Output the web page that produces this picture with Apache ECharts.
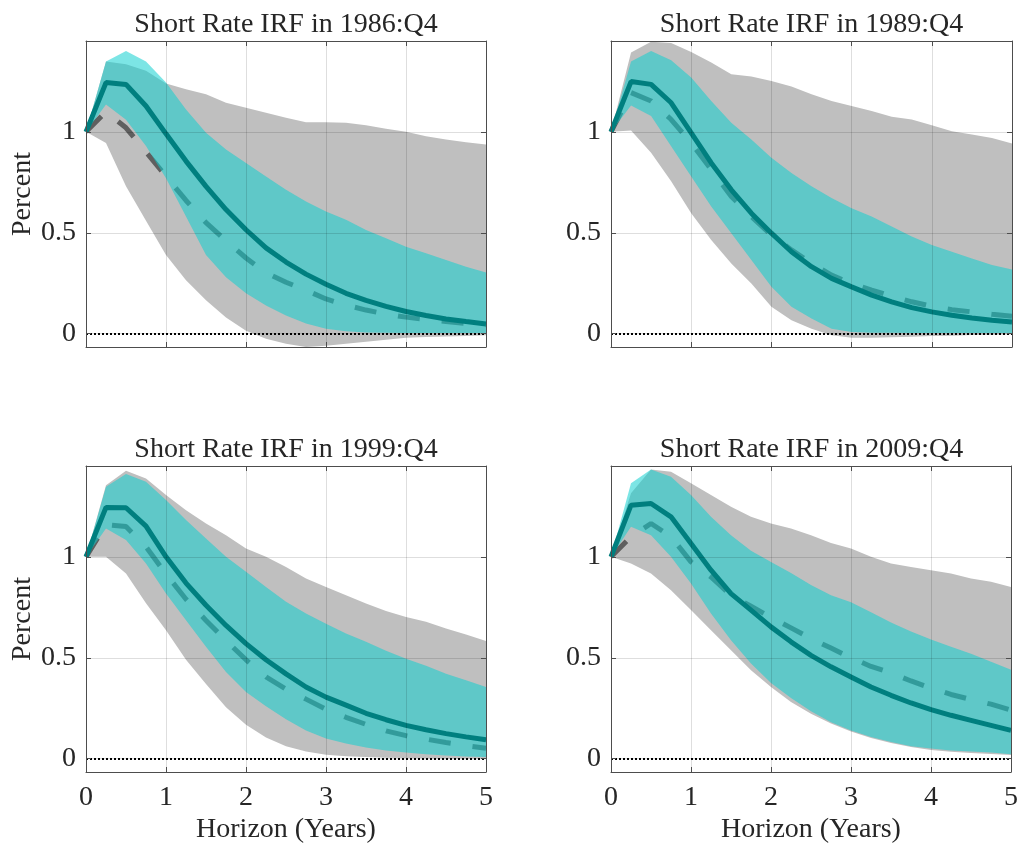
<!DOCTYPE html>
<html>
<head>
<meta charset="utf-8">
<title>Short Rate IRF</title>
<script src="https://cdn.jsdelivr.net/npm/echarts@6/dist/echarts.min.js"></script>
<style>
  html, body { margin: 0; padding: 0; background: #fff; }
  #main { width: 1021px; height: 856px; }
</style>
</head>
<body>
<div id="main"></div>
<script>
// horizon in years (quarterly)
const horizon = [0, 0.25, 0.5, 0.75, 1, 1.25, 1.5, 1.75, 2, 2.25, 2.5, 2.75, 3, 3.25, 3.5, 3.75, 4, 4.25, 4.5, 4.75, 5];
const yTicks = [0, 0.5, 1];

// 1986:Q4
const solid1986  = [1.0, 1.244, 1.235, 1.128, 0.99, 0.855, 0.73, 0.615, 0.515, 0.425, 0.355, 0.295, 0.245, 0.2, 0.165, 0.135, 0.11, 0.09, 0.073, 0.06, 0.048];
const dashed1986 = [1.0, 1.10, 1.02, 0.90, 0.78, 0.66, 0.55, 0.46, 0.375, 0.302, 0.255, 0.215, 0.172, 0.142, 0.117, 0.097, 0.082, 0.07, 0.06, 0.051, 0.044];
const cyanHi1986 = [1.0, 1.348, 1.401, 1.348, 1.244, 1.111, 0.995, 0.912, 0.846, 0.779, 0.713, 0.655, 0.605, 0.564, 0.514, 0.473, 0.431, 0.398, 0.365, 0.332, 0.303];
const cyanLo1986 = [1.0, 1.136, 1.06, 0.93, 0.77, 0.58, 0.39, 0.28, 0.2, 0.14, 0.09, 0.05, 0.025, 0.012, 0.006, 0.004, 0.003, 0.003, 0.003, 0.003, 0.003];
const grayHi1986 = [1.0, 1.348, 1.335, 1.302, 1.24, 1.211, 1.186, 1.144, 1.119, 1.095, 1.07, 1.048, 1.048, 1.045, 1.032, 1.015, 1.0, 0.978, 0.962, 0.948, 0.937];
const grayLo1986 = [1.0, 0.945, 0.73, 0.56, 0.39, 0.265, 0.165, 0.08, 0.015, -0.025, -0.05, -0.068, -0.06, -0.05, -0.04, -0.03, -0.02, -0.017, -0.014, -0.011, -0.008];

// 1989:Q4
const solid1989  = [1.0, 1.249, 1.235, 1.144, 0.995, 0.846, 0.713, 0.597, 0.498, 0.406, 0.332, 0.274, 0.232, 0.191, 0.158, 0.129, 0.108, 0.091, 0.078, 0.066, 0.058];
const dashed1989 = [1.0, 1.194, 1.153, 1.061, 0.945, 0.813, 0.68, 0.58, 0.489, 0.415, 0.348, 0.29, 0.249, 0.216, 0.186, 0.158, 0.136, 0.119, 0.108, 0.096, 0.086];
const cyanHi1989 = [1.0, 1.348, 1.401, 1.355, 1.269, 1.153, 1.045, 0.962, 0.871, 0.796, 0.73, 0.672, 0.622, 0.58, 0.531, 0.481, 0.439, 0.406, 0.373, 0.34, 0.318];
const cyanLo1989 = [1.0, 1.131, 1.078, 0.929, 0.779, 0.63, 0.498, 0.365, 0.232, 0.133, 0.075, 0.025, 0.008, 0.005, 0.004, 0.003, 0.003, 0.003, 0.003, 0.003, 0.003];
const grayHi1989 = [1.0, 1.393, 1.446, 1.44, 1.396, 1.343, 1.285, 1.274, 1.252, 1.224, 1.186, 1.153, 1.128, 1.103, 1.075, 1.061, 1.032, 1.003, 0.987, 0.97, 0.942];
const grayLo1989 = [1.0, 1.007, 0.896, 0.755, 0.597, 0.464, 0.348, 0.249, 0.133, 0.066, 0.025, -0.008, -0.02, -0.02, -0.018, -0.015, -0.012, -0.01, -0.007, -0.005, -0.003];

// 1999:Q4
const solid1999  = [1.0, 1.245, 1.243, 1.152, 1.0, 0.87, 0.76, 0.66, 0.57, 0.49, 0.42, 0.355, 0.305, 0.265, 0.225, 0.193, 0.165, 0.143, 0.124, 0.108, 0.094];
const dashed1999 = [1.0, 1.16, 1.15, 1.05, 0.915, 0.79, 0.685, 0.585, 0.49, 0.405, 0.345, 0.295, 0.245, 0.205, 0.17, 0.138, 0.114, 0.097, 0.08, 0.065, 0.052];
const cyanHi1999 = [1.0, 1.347, 1.41, 1.372, 1.281, 1.182, 1.091, 1.0, 0.926, 0.851, 0.777, 0.719, 0.669, 0.62, 0.579, 0.535, 0.495, 0.46, 0.421, 0.388, 0.355];
const cyanLo1999 = [1.0, 1.14, 1.083, 0.967, 0.818, 0.686, 0.554, 0.43, 0.33, 0.26, 0.195, 0.14, 0.1, 0.075, 0.055, 0.04, 0.03, 0.022, 0.016, 0.011, 0.008];
const grayHi1999 = [1.0, 1.355, 1.426, 1.388, 1.306, 1.231, 1.165, 1.107, 1.041, 1.0, 0.95, 0.893, 0.851, 0.81, 0.769, 0.732, 0.702, 0.678, 0.645, 0.615, 0.583];
const grayLo1999 = [1.0, 1.0, 0.917, 0.77, 0.636, 0.49, 0.37, 0.255, 0.168, 0.105, 0.061, 0.035, 0.02, 0.012, 0.008, 0.005, 0.003, 0.002, 0.001, 0.001, 0.001];

// 2009:Q4
const solid2009  = [1.0, 1.256, 1.264, 1.198, 1.066, 0.934, 0.818, 0.736, 0.653, 0.579, 0.512, 0.455, 0.405, 0.355, 0.314, 0.276, 0.243, 0.215, 0.19, 0.165, 0.14];
const dashed2009 = [1.0, 1.1, 1.165, 1.1, 0.975, 0.9, 0.81, 0.755, 0.7, 0.648, 0.595, 0.548, 0.5, 0.457, 0.425, 0.385, 0.35, 0.318, 0.293, 0.27, 0.24];
const cyanHi2009 = [1.0, 1.364, 1.433, 1.397, 1.306, 1.198, 1.107, 1.03, 0.975, 0.92, 0.86, 0.81, 0.775, 0.725, 0.675, 0.63, 0.59, 0.555, 0.52, 0.48, 0.44];
const cyanLo2009 = [1.0, 1.149, 1.107, 1.0, 0.868, 0.719, 0.587, 0.471, 0.375, 0.3, 0.235, 0.18, 0.14, 0.107, 0.083, 0.062, 0.05, 0.041, 0.035, 0.03, 0.022];
const grayHi2009 = [1.0, 1.315, 1.433, 1.421, 1.364, 1.306, 1.248, 1.198, 1.165, 1.14, 1.107, 1.069, 1.041, 1.0, 0.967, 0.95, 0.934, 0.917, 0.893, 0.876, 0.851];
const grayLo2009 = [1.0, 0.967, 0.917, 0.835, 0.736, 0.636, 0.537, 0.438, 0.355, 0.281, 0.223, 0.174, 0.135, 0.102, 0.078, 0.058, 0.043, 0.034, 0.028, 0.023, 0.018];

const panels = [
  { title: 'Short Rate IRF in 1986:Q4', solid: solid1986, dashed: dashed1986, cyanHi: cyanHi1986, cyanLo: cyanLo1986, grayHi: grayHi1986, grayLo: grayLo1986 },
  { title: 'Short Rate IRF in 1989:Q4', solid: solid1989, dashed: dashed1989, cyanHi: cyanHi1989, cyanLo: cyanLo1989, grayHi: grayHi1989, grayLo: grayLo1989 },
  { title: 'Short Rate IRF in 1999:Q4', solid: solid1999, dashed: dashed1999, cyanHi: cyanHi1999, cyanLo: cyanLo1999, grayHi: grayHi1999, grayLo: grayLo1999 },
  { title: 'Short Rate IRF in 2009:Q4', solid: solid2009, dashed: dashed2009, cyanHi: cyanHi2009, cyanLo: cyanLo2009, grayHi: grayHi2009, grayLo: grayLo2009 }
];

const FONT = '"Liberation Serif", "Times New Roman", serif';
const INK = '#262626';
const BOX = '#4d4d4d';
const GRIDLINE = 'rgba(0,0,0,0.13)';

const boxes = [
  { left: 86, top: 41, width: 400, height: 306 },
  { left: 611, top: 41, width: 401, height: 306 },
  { left: 86, top: 466, width: 400, height: 306 },
  { left: 611, top: 466, width: 401, height: 306 }
];
const titleY = [25, 25, 450, 450];

function pairs(arr) {
  return horizon.map((t, i) => [t, arr[i]]);
}

// band between lo and hi, drawn as one polygon through the axes' scales
function band(i, lo, hi, fill, opacity, z) {
  return {
    type: 'custom',
    xAxisIndex: 2 * i, yAxisIndex: 2 * i, z: z,
    silent: true, animation: false,
    data: horizon.map((t, k) => [t, lo[k], hi[k]]),
    encode: { x: 0, y: [1, 2] },
    renderItem: function (params, api) {
      if (params.dataIndex !== 0) return;
      const top = horizon.map((t, k) => api.coord([t, hi[k]]));
      const bot = horizon.map((t, k) => api.coord([t, lo[k]])).reverse();
      const cs = params.coordSys;
      const pts = echarts.graphic.clipPointsByRect(top.concat(bot), { x: cs.x, y: cs.y, width: cs.width, height: cs.height });
      return {
        type: 'polygon',
        shape: { points: pts },
        style: { fill: fill, opacity: opacity }
      };
    }
  };
}

let grids = [], xAxes = [], yAxes = [], series = [], graphics = [];

panels.forEach((p, i) => {
  const b = boxes[i];
  const leftCol = i % 2 === 0;
  const bottomRow = i >= 2;
  grids.push({ left: b.left, top: b.top, width: b.width, height: b.height, containLabel: false });

  graphics.push({
    type: 'text',
    x: b.left + b.width / 2,
    y: titleY[i],
    style: { text: p.title, fontFamily: FONT, fontSize: 28, fill: INK, align: 'center', verticalAlign: 'middle' }
  });

  const lineCommon = { show: true, onZero: false, lineStyle: { color: BOX, width: 1 } };

  xAxes.push({
    gridIndex: i, type: 'value', min: 0, max: 5, interval: 1, position: 'bottom', z: 10,
    axisLine: lineCommon,
    axisTick: { show: true, inside: true, length: 5, lineStyle: { color: BOX } },
    axisLabel: { show: bottomRow, margin: 12, fontFamily: FONT, fontSize: 28, color: INK },
    splitLine: { show: true, lineStyle: { color: GRIDLINE, width: 1 } },
    name: bottomRow ? 'Horizon (Years)' : '',
    nameLocation: 'middle', nameGap: 44,
    nameTextStyle: { fontFamily: FONT, fontSize: 28, color: INK }
  });
  xAxes.push({
    gridIndex: i, type: 'value', min: 0, max: 5, interval: 1, position: 'top', z: 10,
    axisLine: lineCommon,
    axisTick: { show: true, inside: true, length: 5, lineStyle: { color: BOX } },
    axisLabel: { show: false },
    splitLine: { show: false }
  });
  yAxes.push({
    gridIndex: i, type: 'value', min: -0.066, max: 1.45, splitNumber: 3, position: 'left', z: 10,
    axisLine: lineCommon,
    axisTick: { show: true, inside: true, length: 5, customValues: yTicks, lineStyle: { color: BOX } },
    axisLabel: { show: true, customValues: yTicks, margin: 10, fontFamily: FONT, fontSize: 28, color: INK },
    splitLine: { show: true, lineStyle: { color: GRIDLINE, width: 1 } },
    name: leftCol ? 'Percent' : '',
    nameLocation: 'middle', nameGap: 49,
    nameTextStyle: { fontFamily: FONT, fontSize: 28, color: INK }
  });
  yAxes.push({
    gridIndex: i, type: 'value', min: -0.066, max: 1.45, position: 'right', z: 10,
    axisLine: lineCommon,
    axisTick: { show: true, inside: true, length: 5, customValues: yTicks, lineStyle: { color: BOX } },
    axisLabel: { show: false },
    splitLine: { show: false }
  });

  const ax = { xAxisIndex: 2 * i, yAxisIndex: 2 * i, symbol: 'none', silent: true, animation: false };

  // gray band (behind everything)
  series.push(band(i, p.grayLo, p.grayHi, '#bfbfbf', 1, 1));
  // dashed line, tinted where the cyan band lies over it
  series.push(Object.assign({ type: 'line', z: 2, data: pairs(p.dashed),
    lineStyle: { color: '#5f5f5f', width: 5, type: [22, 22] } }, ax));
  // cyan band
  series.push(band(i, p.cyanLo, p.cyanHi, 'rgb(13,207,207)', 0.54, 3));
  // solid line + zero line
  series.push(Object.assign({ type: 'line', z: 4, data: pairs(p.solid),
    lineStyle: { color: '#007f7f', width: 5 },
    markLine: {
      silent: true, symbol: 'none', animation: false,
      label: { show: false },
      lineStyle: { color: '#000', width: 2, type: [2, 2] },
      data: [{ yAxis: 0 }]
    } }, ax));
});

const chart = echarts.init(document.getElementById('main'));
chart.setOption({
  animation: false,
  backgroundColor: '#fff',
  grid: grids,
  xAxis: xAxes,
  yAxis: yAxes,
  series: series,
  graphic: graphics
});
</script>
</body>
</html>
